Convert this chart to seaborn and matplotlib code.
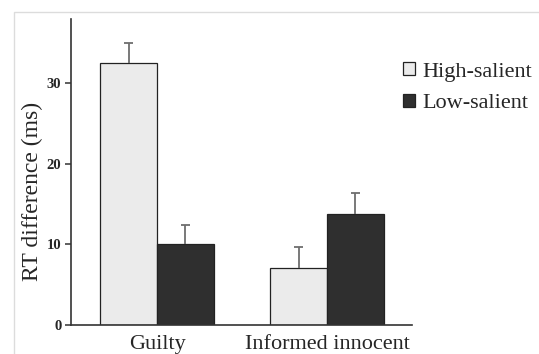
import matplotlib
matplotlib.use("Agg")
import matplotlib.pyplot as plt
import seaborn as sns
import pandas as pd
from matplotlib.patches import Rectangle

groups = ["Guilty", "Informed innocent"]
conditions = ["High-salient", "Low-salient"]
high_vals = [32.5, 7.0]
low_vals = [10.0, 13.8]
high_err = [2.4, 2.7]
low_err = [2.4, 2.6]
yticks = [0, 10, 20, 30]

sns.set_style("white")
plt.rcParams["font.family"] = ["Liberation Serif", "DejaVu Serif"]

df = pd.DataFrame({
    "group": groups * 2,
    "condition": [conditions[0]] * 2 + [conditions[1]] * 2,
    "value": high_vals + low_vals,
    "err": high_err + low_err,
})

fig = plt.figure(figsize=(5.39, 3.54), dpi=100)
ax = fig.add_axes([71 / 539, 1 - 325 / 354, (412 - 71) / 539, (325 - 19) / 354])

palette = {"High-salient": "#ebebeb", "Low-salient": "#2f2f2f"}
sns.barplot(data=df, x="group", y="value", hue="condition", order=groups,
            hue_order=conditions, palette=palette, width=0.67,
            edgecolor="#222222", linewidth=0.9, errorbar=None, ax=ax,
            saturation=1)

# error bars (upper only)
bars = ax.patches[:4]
for patch in bars:
    xc = patch.get_x() + patch.get_width() / 2
    h = patch.get_height()
    match = df[(df["value"] - h).abs() < 1e-6]
    if len(match) == 0:
        continue
    e = float(match["err"].iloc[0])
    ax.vlines(xc, h, h + e, color="#6e6e6e", linewidth=1.3, zorder=1)
    ax.hlines(h + e, xc - 0.025, xc + 0.025, color="#6e6e6e", linewidth=1.3, zorder=1)

ax.set_xlim(-0.506, 1.5)
ax.set_ylim(0, 37.9)
ax.set_yticks(yticks)
ax.set_yticklabels([str(t) for t in yticks], fontsize=10.5, fontweight="bold")
ax.tick_params(axis="y", length=4, width=1.1, color="#333333", pad=3, left=True)
ax.tick_params(axis="x", length=0, pad=7, labelsize=16)
ax.set_xlabel("")
ax.set_ylabel("RT difference (ms)", fontsize=17, va="center")
ax.yaxis.set_label_coords(-0.112, 0.438)
for s in ["top", "right"]:
    ax.spines[s].set_visible(False)
for s in ["left", "bottom"]:
    ax.spines[s].set_color("#333333")
    ax.spines[s].set_linewidth(1.2)

ax.legend_.remove()
handles = [Rectangle((0, 0), 1, 1, facecolor=palette[c], edgecolor="#222222", linewidth=0.9)
           for c in conditions]
fig.legend(handles, conditions, loc="upper left", bbox_to_anchor=(403 / 539, 1 - 62 / 354),
           frameon=False, fontsize=16, handlelength=0.55, handleheight=0.55,
           handletextpad=0.3, labelspacing=0.55, borderpad=0, borderaxespad=0)

fig.patches.append(Rectangle((14 / 539, -0.05), 1.1, 1 - 12 / 354 + 0.05,
                             transform=fig.transFigure, fill=False,
                             edgecolor="#dcdcdc", linewidth=1.0, zorder=-1))

fig.savefig("out.png", dpi=100)
